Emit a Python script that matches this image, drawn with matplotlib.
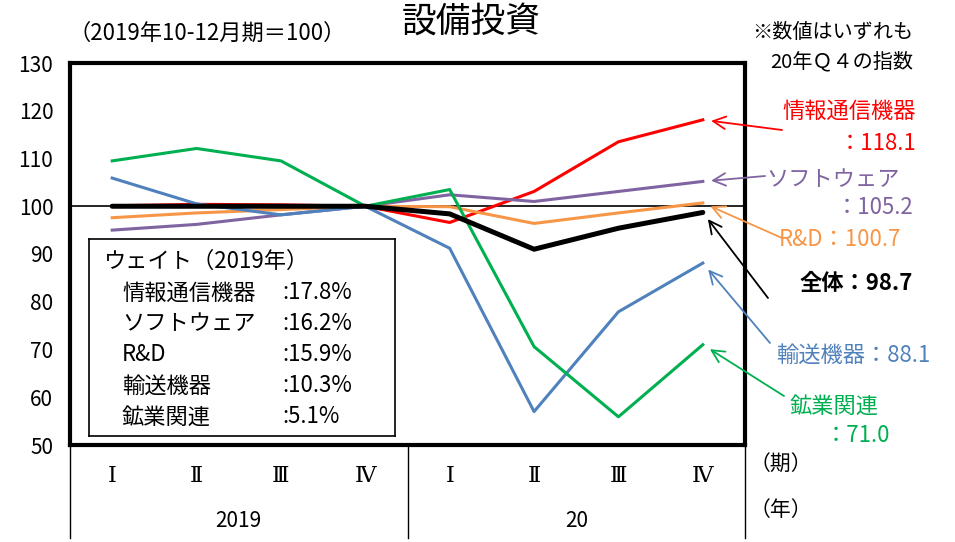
import matplotlib
matplotlib.use("Agg")
import matplotlib.pyplot as plt
from matplotlib.lines import Line2D

plt.rcParams['font.family'] = ['Noto Sans CJK JP', 'DejaVu Sans']

# Quarterly index, 2019 Q4 = 100
quarters = ["Ⅰ", "Ⅱ", "Ⅲ", "Ⅳ", "Ⅰ", "Ⅱ", "Ⅲ", "Ⅳ"]
years = ["2019", "20"]
ict = [100.1, 100.4, 100.3, 100.0, 96.6, 103.1, 113.5, 118.1]
software = [95.0, 96.2, 98.2, 100.0, 102.4, 101.0, 103.1, 105.2]
rnd = [97.6, 98.6, 99.3, 100.0, 99.9, 96.4, 98.6, 100.7]
total = [100.0, 100.0, 100.0, 100.0, 98.4, 91.0, 95.4, 98.7]
transport = [105.9, 100.5, 98.2, 100.0, 91.2, 57.0, 77.9, 88.1]
mining = [109.5, 112.1, 109.5, 100.0, 103.5, 70.6, 55.9, 71.0]

weight_names = ["情報通信機器", "ソフトウェア", "R&D", "輸送機器", "鉱業関連"]
weight_values = [":17.8%", ":16.2%", ":15.9%", ":10.3%", ":5.1%"]

RED = "#ff0000"
PURPLE = "#8064a2"
ORANGE = "#f79646"
BLUE = "#4f81bd"
GREEN = "#00b050"
BLACK = "#000000"

W, H = 955, 542
fig = plt.figure(figsize=(W / 100, H / 100), dpi=100)
ax = fig.add_axes([70 / W, 1 - 445 / H, (745 - 70) / W, (445 - 63) / H])

x = list(range(len(quarters)))
ax.axhline(100, color="black", lw=1.2, zorder=1)
ax.plot(x, ict, color=RED, lw=2.2, zorder=3)
ax.plot(x, software, color=PURPLE, lw=2.2, zorder=3)
ax.plot(x, rnd, color=ORANGE, lw=2.2, zorder=3)
ax.plot(x, transport, color=BLUE, lw=2.2, zorder=3)
ax.plot(x, mining, color=GREEN, lw=2.2, zorder=3)
ax.plot(x, total, color=BLACK, lw=3.6, zorder=4, solid_capstyle="round")

ax.set_xlim(-0.5, len(quarters) - 0.5)
ax.set_ylim(50, 130)
ax.set_yticks(range(50, 131, 10))
ax.tick_params(axis="y", length=0, labelsize=15, pad=12)
ax.set_xticks([])
for s in ax.spines.values():
    s.set_linewidth(3.0)

# Category table under the plot
for xp in (70, 408, 745):
    fig.add_artist(Line2D([xp / W, xp / W], [1 - 445 / H, 1 - 538 / H],
                          color="black", lw=1.0))
for i, q in enumerate(quarters):
    ax.text(i, -0.08, q, transform=ax.get_xaxis_transform(), ha="center",
            va="center", fontsize=16, family=["DejaVu Serif"])
ax.text(1.5, -0.2, years[0], transform=ax.get_xaxis_transform(), ha="center",
        va="center", fontsize=15)
ax.text(5.5, -0.2, years[1], transform=ax.get_xaxis_transform(), ha="center",
        va="center", fontsize=15)
fig.text(750 / W, 1 - 465 / H, "（期）", fontsize=15, va="center", ha="left")
fig.text(750 / W, 1 - 510 / H, "（年）", fontsize=15, va="center", ha="left")

# Titles and notes
fig.text(471 / W, 1 - 22 / H, "設備投資", fontsize=25, ha="center", va="center")
fig.text(207 / W, 1 - 33 / H, "（2019年10-12月期＝100）", fontsize=16,
         ha="center", va="center")
fig.text(913 / W, 1 - 33 / H, "※数値はいずれも", fontsize=14.5, ha="right",
         va="center")
fig.text(913 / W, 1 - 62 / H, "20年Ｑ４の指数", fontsize=14.5, ha="right",
         va="center")

# Weight box
box = ax.inset_axes([(89 - 70) / 675, (445 - 436) / 382, (395 - 89) / 675,
                     (436 - 239) / 382])
box.set_xticks([])
box.set_yticks([])
for s in box.spines.values():
    s.set_linewidth(1.2)
box.set_xlim(89, 395)
box.set_ylim(436, 239)
box.text(104, 261, "ウェイト（2019年）", fontsize=16, va="center", ha="left")
for k, (n, v) in enumerate(zip(weight_names, weight_values)):
    yy = 293 + k * 31
    box.text(122, yy, n, fontsize=16, va="center", ha="left")
    box.text(282, yy, v, fontsize=16, va="center", ha="left")

# Value callouts at the latest quarter
last = len(quarters) - 1


def callout(val, color, tail, texts, weight="normal"):
    ax.annotate("", xy=(last, val), xycoords="data",
                xytext=(tail[0], H - tail[1]), textcoords="figure pixels",
                arrowprops=dict(arrowstyle="->,head_length=0.9,head_width=0.45",
                                color=color, lw=1.3, shrinkA=0, shrinkB=6,
                                mutation_scale=10),
                annotation_clip=False)
    for (tx, ty, s, ha) in texts:
        fig.text(tx / W, 1 - ty / H, s, color=color, fontsize=16, ha=ha,
                 va="center", fontweight=weight)


callout(ict[-1], RED, (782, 130),
        [(916, 111, "情報通信機器", "right"),
         (916, 143, f"：{ict[-1]:.1f}", "right")])
callout(software[-1], PURPLE, (765, 176),
        [(900, 180, "ソフトウェア", "right"),
         (913, 208, f"：{software[-1]:.1f}", "right")])
callout(rnd[-1], ORANGE, (782, 238),
        [(779, 240, f"R&D：{rnd[-1]:.1f}", "left")])
callout(total[-1], BLACK, (768, 298),
        [(913, 283, f"全体：{total[-1]:.1f}", "right")], weight="bold")
callout(transport[-1], BLUE, (770, 343),
        [(776, 355, f"輸送機器：{transport[-1]:.1f}", "left")])
callout(mining[-1], GREEN, (784, 396),
        [(790, 406, "鉱業関連", "left"),
         (890, 435, f"：{mining[-1]:.1f}", "right")])

fig.savefig("out.png", dpi=100)
